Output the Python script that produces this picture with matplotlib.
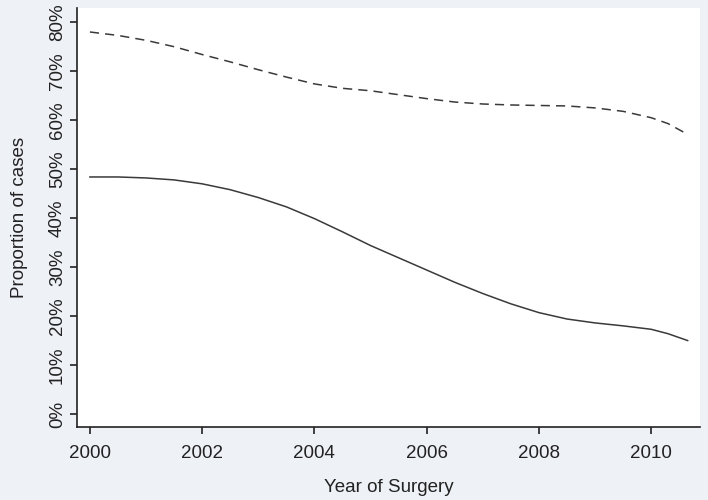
import matplotlib
matplotlib.use("Agg")
import matplotlib.pyplot as plt
from matplotlib.ticker import FuncFormatter

# values (proportion of cases, %)
years = [2000, 2000.5, 2001, 2001.5, 2002, 2002.5, 2003, 2003.5, 2004, 2004.5,
         2005, 2005.5, 2006, 2006.5, 2007, 2007.5, 2008, 2008.5, 2009, 2009.5,
         2010, 2010.3, 2010.65]
dashed_vals = [78.0, 77.3, 76.3, 75.0, 73.4, 71.9, 70.3, 68.8, 67.4, 66.5,
               66.0, 65.2, 64.4, 63.7, 63.3, 63.1, 63.0, 62.9, 62.5, 61.8,
               60.5, 59.3, 57.1]
solid_vals = [48.4, 48.4, 48.2, 47.8, 47.0, 45.8, 44.2, 42.3, 39.9, 37.2,
              34.4, 31.9, 29.4, 26.9, 24.6, 22.5, 20.7, 19.4, 18.6, 18.0,
              17.3, 16.4, 15.0]
y_ticks = [0, 10, 20, 30, 40, 50, 60, 70, 80]
x_ticks = [2000, 2002, 2004, 2006, 2008, 2010]

plt.rcParams['font.family'] = ['Liberation Sans', 'DejaVu Sans']

fig = plt.figure(figsize=(7.08, 5.0), dpi=100, facecolor='#eef1f6')
ax = fig.add_axes([77/708, 73/500, 623/708, 419/500])
ax.set_facecolor('white')

ax.plot(years, dashed_vals, color='#3a3a3a', lw=1.1, dashes=(6, 4))
ax.plot(years, solid_vals, color='#3a3a3a', lw=1.1)

ax.set_xlim(1999.77, 2010.87)
ax.set_ylim(-2.65, 82.9)
ax.set_xticks(x_ticks)
ax.set_yticks(y_ticks)
ax.yaxis.set_major_formatter(FuncFormatter(lambda v, p: '%d%%' % v))
for lab in ax.get_yticklabels():
    lab.set_rotation(90)
    lab.set_va('center')

ax.tick_params(labelsize=13.5, length=5, width=1.2, color='#222222', labelcolor='#222222')
ax.tick_params(axis='y', pad=3)
ax.tick_params(axis='x', pad=8)
ax.spines['top'].set_visible(False)
ax.spines['right'].set_visible(False)
for s in ['left', 'bottom']:
    ax.spines[s].set_linewidth(1.2)
    ax.spines[s].set_color('#222222')

ax.set_xlabel('Year of Surgery', fontsize=13.5, color='#222222', labelpad=12)
ax.set_ylabel('Proportion of cases', fontsize=13.5, color='#222222', labelpad=15)

fig.savefig('out.png', dpi=100, facecolor=fig.get_facecolor())
